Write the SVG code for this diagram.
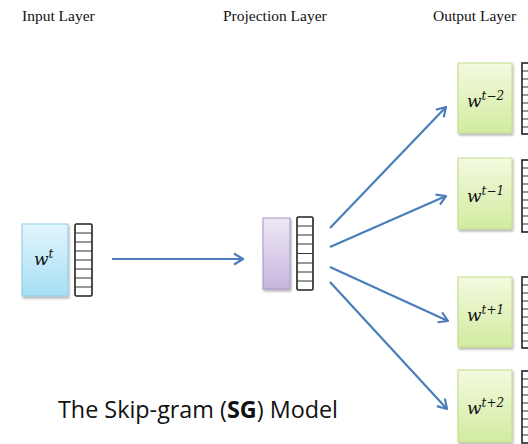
<svg xmlns="http://www.w3.org/2000/svg" width="528" height="444" viewBox="0 0 528 444">
<style>
.title{font-family:"Liberation Serif","Times New Roman",serif;font-size:15.5px;fill:#111}
.lbl{font-family:"DejaVu Serif","Liberation Serif",serif;font-style:italic;font-size:17px;fill:#111}
.sup{font-size:12px}
.vec{fill:#fff;stroke:#222;stroke-width:1.6}
.cell{stroke:#333;stroke-width:1}
.conn{stroke:#4a7ebb;stroke-width:2.2;fill:none;marker-end:url(#ah)}
.cap{font-family:"Open Sans","Noto Sans",sans-serif;font-size:23px;fill:#111}
</style>
<defs>
<linearGradient id="gBlue" x1="0" y1="0" x2="0" y2="1"><stop offset="0" stop-color="#e3f5fc"/><stop offset="1" stop-color="#a6def4"/></linearGradient>
<linearGradient id="gPurp" x1="0" y1="0" x2="0" y2="1"><stop offset="0" stop-color="#eee8f6"/><stop offset="1" stop-color="#c8b6de"/></linearGradient>
<linearGradient id="gGreen" x1="0" y1="0" x2="0" y2="1"><stop offset="0" stop-color="#f4fae0"/><stop offset="1" stop-color="#d2eba0"/></linearGradient>
<filter id="sh" x="-20%" y="-20%" width="140%" height="140%"><feDropShadow dx="1" dy="2" stdDeviation="1.2" flood-color="#000" flood-opacity="0.3"/></filter>
<marker id="ah" markerWidth="14" markerHeight="14" refX="10" refY="7" orient="auto" markerUnits="userSpaceOnUse"><polyline points="1,1.5 10,7 1,12.5" fill="none" stroke="#4a7ebb" stroke-width="2.2" stroke-linejoin="round"/></marker>
</defs>
<rect width="528" height="444" fill="#fff"/>
<text class="title" x="22" y="21">Input Layer</text>
<text class="title" x="223" y="21">Projection Layer</text>
<text class="title" x="433" y="21">Output Layer</text>

<g id="input">
<rect x="22" y="224" width="46" height="72" fill="url(#gBlue)" stroke="#8ccde6" stroke-width="1" filter="url(#sh)"/>
<text class="lbl" x="34" y="265">w<tspan class="sup" dy="-7">t</tspan></text>
<rect class="vec" x="75" y="224" width="17" height="72" rx="1.5"/>
<g class="cell"><line x1="75" y1="233" x2="92" y2="233"/><line x1="75" y1="242" x2="92" y2="242"/><line x1="75" y1="251" x2="92" y2="251"/><line x1="75" y1="260" x2="92" y2="260"/><line x1="75" y1="269" x2="92" y2="269"/><line x1="75" y1="278" x2="92" y2="278"/><line x1="75" y1="287" x2="92" y2="287"/></g>
</g>

<g id="projection">
<rect x="263" y="218" width="27" height="71" fill="url(#gPurp)" stroke="#a993c6" stroke-width="1" filter="url(#sh)"/>
<rect class="vec" x="297" y="217" width="16" height="73" rx="1.5"/>
<g class="cell"><line x1="297" y1="226" x2="313" y2="226"/><line x1="297" y1="235" x2="313" y2="235"/><line x1="297" y1="244" x2="313" y2="244"/><line x1="297" y1="253.5" x2="313" y2="253.5"/><line x1="297" y1="263" x2="313" y2="263"/><line x1="297" y1="272" x2="313" y2="272"/><line x1="297" y1="281" x2="313" y2="281"/></g>
</g>

<g id="out1">
<rect x="458" y="63" width="54" height="70" fill="url(#gGreen)" stroke="#c2dc88" stroke-width="1" filter="url(#sh)"/>
<text class="lbl" x="467" y="107">w<tspan class="sup" dy="-7">t−2</tspan></text>
<rect class="vec" x="522" y="63" width="14" height="71"/>
<g class="cell"><line x1="522" y1="71" x2="536" y2="71"/><line x1="522" y1="79" x2="536" y2="79"/><line x1="522" y1="87" x2="536" y2="87"/><line x1="522" y1="95" x2="536" y2="95"/><line x1="522" y1="103" x2="536" y2="103"/><line x1="522" y1="111" x2="536" y2="111"/><line x1="522" y1="119" x2="536" y2="119"/><line x1="522" y1="127" x2="536" y2="127"/></g>
</g>

<g id="out2">
<rect x="458" y="158" width="54" height="71" fill="url(#gGreen)" stroke="#c2dc88" stroke-width="1" filter="url(#sh)"/>
<text class="lbl" x="467" y="202">w<tspan class="sup" dy="-7">t−1</tspan></text>
<rect class="vec" x="522" y="160" width="14" height="72"/>
<g class="cell"><line x1="522" y1="168" x2="536" y2="168"/><line x1="522" y1="176" x2="536" y2="176"/><line x1="522" y1="184" x2="536" y2="184"/><line x1="522" y1="192" x2="536" y2="192"/><line x1="522" y1="200" x2="536" y2="200"/><line x1="522" y1="208" x2="536" y2="208"/><line x1="522" y1="216" x2="536" y2="216"/><line x1="522" y1="224" x2="536" y2="224"/></g>
</g>

<g id="out3">
<rect x="458" y="277" width="54" height="70" fill="url(#gGreen)" stroke="#c2dc88" stroke-width="1" filter="url(#sh)"/>
<text class="lbl" x="467" y="321">w<tspan class="sup" dy="-7">t+1</tspan></text>
<rect class="vec" x="522" y="277" width="14" height="71"/>
<g class="cell"><line x1="522" y1="285" x2="536" y2="285"/><line x1="522" y1="293" x2="536" y2="293"/><line x1="522" y1="301" x2="536" y2="301"/><line x1="522" y1="309" x2="536" y2="309"/><line x1="522" y1="317" x2="536" y2="317"/><line x1="522" y1="325" x2="536" y2="325"/><line x1="522" y1="333" x2="536" y2="333"/><line x1="522" y1="341" x2="536" y2="341"/></g>
</g>

<g id="out4">
<rect x="458" y="370" width="54" height="72" fill="url(#gGreen)" stroke="#c2dc88" stroke-width="1" filter="url(#sh)"/>
<text class="lbl" x="467" y="414">w<tspan class="sup" dy="-7">t+2</tspan></text>
<rect class="vec" x="522" y="371" width="14" height="72"/>
<g class="cell"><line x1="522" y1="379" x2="536" y2="379"/><line x1="522" y1="387" x2="536" y2="387"/><line x1="522" y1="395" x2="536" y2="395"/><line x1="522" y1="403" x2="536" y2="403"/><line x1="522" y1="411" x2="536" y2="411"/><line x1="522" y1="419" x2="536" y2="419"/><line x1="522" y1="427" x2="536" y2="427"/><line x1="522" y1="435" x2="536" y2="435"/></g>
</g>

<g id="connectors">
<line class="conn" x1="112" y1="259" x2="243" y2="259"/>
<line class="conn" x1="330" y1="228" x2="446" y2="107"/>
<line class="conn" x1="330" y1="247" x2="446" y2="196"/>
<line class="conn" x1="330" y1="267" x2="448" y2="321"/>
<line class="conn" x1="330" y1="282" x2="447" y2="409"/>
</g>

<text class="cap" x="58" y="418" textLength="280" lengthAdjust="spacingAndGlyphs">The Skip-gram (<tspan font-weight="bold">SG</tspan>) Model</text>
</svg>
